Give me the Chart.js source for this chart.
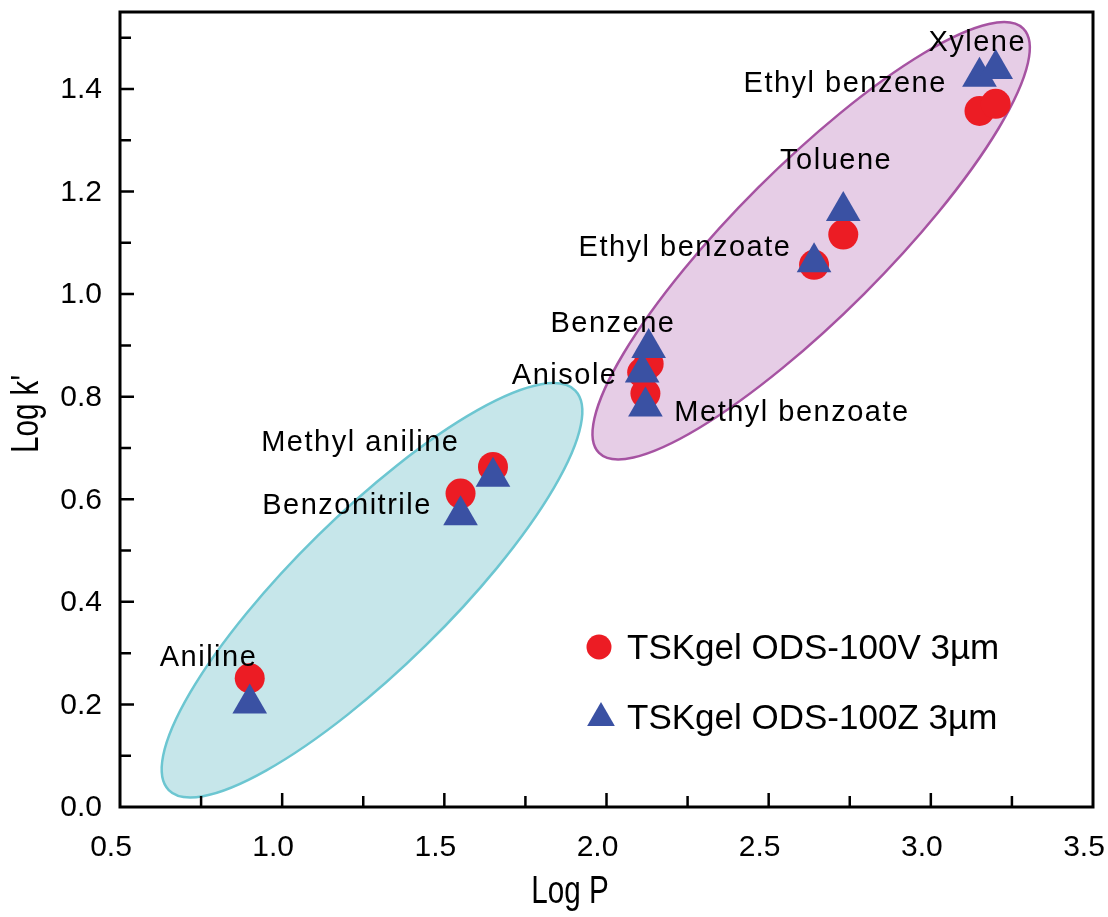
<!DOCTYPE html>
<html>
<head>
<meta charset="utf-8">
<script src="https://cdn.jsdelivr.net/npm/chart.js@4.4.1/dist/chart.umd.min.js"></script>
<style>
  html, body { margin: 0; padding: 0; background: #ffffff; }
  #wrap { width: 1108px; height: 917px; }
</style>
</head>
<body>
<div id="wrap"><canvas id="c" width="1108" height="917"></canvas></div>
<script>
// ---------------- data ----------------
const compounds  = ['Aniline', 'Benzonitrile', 'Methyl aniline', 'Anisole', 'Benzene',
                    'Methyl benzoate', 'Ethyl benzoate', 'Toluene', 'Ethyl benzene', 'Xylene'];
const logP       = [0.90, 1.55, 1.65, 2.11, 2.13, 2.12, 2.64, 2.73, 3.15, 3.20];
const logK_100V  = [0.251, 0.611, 0.663, 0.847, 0.864, 0.806, 1.057, 1.116, 1.357, 1.371];
const logK_100Z  = [0.202, 0.569, 0.644, 0.847, 0.895, 0.781, 1.062, 1.162, 1.424, 1.439];
const seriesNames = ['TSKgel ODS-100V 3\u00b5m', 'TSKgel ODS-100Z 3\u00b5m'];

// label anchor points (data units) for compound names
const labelLogP  = [0.773, 1.200, 1.241, 1.871, 2.020, 2.572, 2.242, 2.708, 2.736, 3.143];
const labelLogK  = [0.290, 0.586, 0.709, 0.841, 0.942, 0.769, 1.090, 1.260, 1.410, 1.489];

const xTickLabels = [0.5, 1.0, 1.5, 2.0, 2.5, 3.0, 3.5];
const yTickLabels = [0.0, 0.2, 0.4, 0.6, 0.8, 1.0, 1.2, 1.4];
const xTickMarks  = [0.75, 1.0, 1.25, 1.5, 1.75, 2.0, 2.25, 2.5, 2.75, 3.0, 3.25];
const yTickMarks  = [0.1, 0.2, 0.3, 0.4, 0.5, 0.6, 0.7, 0.8, 0.9, 1.0, 1.1, 1.2, 1.3, 1.4, 1.5];

// shaded groups (center in data units, semi-axes in px)
const regions = [
  { cx: 1.277, cy: 0.4225, a: 285, b: 77, angle: 44.5, fill: '#c6e6ea', stroke: '#6cc6d1' },
  { cx: 2.631, cy: 1.104,  a: 300, b: 75, angle: 45,   fill: '#e6cde6', stroke: '#a653a2' }
];

const RED = '#ec1c24';
const BLUE = '#3a51a3';
const FONT = "'Liberation Sans', Arial, sans-serif";

function tri(ctx, x, y, r) {
  ctx.beginPath();
  for (let i = 0; i < 3; i++) {
    const a = i * 2 * Math.PI / 3;
    const px = x + Math.sin(a) * r, py = y - Math.cos(a) * r;
    if (i === 0) ctx.moveTo(px, py); else ctx.lineTo(px, py);
  }
  ctx.closePath();
}

const decor = {
  id: 'decor',
  beforeDatasetsDraw(chart) {
    const { ctx, scales: { x, y } } = chart;
    ctx.save();
    regions.forEach(r => {
      const px = x.getPixelForValue(r.cx), py = y.getPixelForValue(r.cy);
      ctx.beginPath();
      ctx.ellipse(px, py, r.a, r.b, -r.angle * Math.PI / 180, 0, Math.PI * 2);
      ctx.fillStyle = r.fill;
      ctx.fill();
      ctx.lineWidth = 2.5;
      ctx.strokeStyle = r.stroke;
      ctx.stroke();
    });
    ctx.restore();
  },
  afterDatasetsDraw(chart) {
    const { ctx, scales: { x, y } } = chart;
    ctx.save();
    ctx.fillStyle = '#000';
    ctx.font = '29px ' + FONT;
    ctx.letterSpacing = '1.5px';
    ctx.textAlign = 'center';
    ctx.textBaseline = 'middle';
    compounds.forEach((name, i) => {
      ctx.fillText(name, x.getPixelForValue(labelLogP[i]), y.getPixelForValue(labelLogK[i]));
    });
    ctx.restore();
  },
  afterDraw(chart) {
    const { ctx, chartArea: ca, scales: { x, y } } = chart;
    ctx.save();
    // frame
    ctx.strokeStyle = '#000';
    ctx.lineWidth = 3;
    ctx.strokeRect(ca.left, ca.top, ca.right - ca.left, ca.bottom - ca.top);
    // inward ticks
    ctx.lineWidth = 2.5;
    ctx.beginPath();
    xTickMarks.forEach(v => {
      const px = x.getPixelForValue(v);
      const len = (Math.abs(v * 2 - Math.round(v * 2)) < 1e-6) ? 14 : 11;
      ctx.moveTo(px, ca.bottom); ctx.lineTo(px, ca.bottom - len);
    });
    yTickMarks.forEach(v => {
      const py = y.getPixelForValue(v);
      const len = (Math.abs(v * 5 - Math.round(v * 5)) < 1e-6) ? 14 : 11;
      ctx.moveTo(ca.left, py); ctx.lineTo(ca.left + len, py);
    });
    ctx.stroke();
    // tick labels
    ctx.fillStyle = '#000';
    ctx.font = '30px ' + FONT;
    ctx.textBaseline = 'middle';
    ctx.textAlign = 'center';
    xTickLabels.forEach(v => {
      ctx.fillText(v.toFixed(1), x.getPixelForValue(v) - 9, ca.bottom + 41);
    });
    ctx.textAlign = 'right';
    yTickLabels.forEach(v => {
      ctx.fillText(v.toFixed(1), ca.left - 18, y.getPixelForValue(v) + 1);
    });
    // axis titles (condensed)
    ctx.textAlign = 'center';
    ctx.font = '38px ' + FONT;
    ctx.save();
    ctx.translate(570, 893);
    ctx.scale(0.78, 1);
    ctx.fillText('Log P', 0, 0);
    ctx.restore();
    ctx.save();
    ctx.translate(28, 414);
    ctx.rotate(-Math.PI / 2);
    ctx.scale(0.78, 1);
    ctx.fillText("Log k'", 0, 0);
    ctx.restore();
    // legend
    ctx.fillStyle = RED;
    ctx.beginPath();
    ctx.arc(599, 647, 12.5, 0, Math.PI * 2);
    ctx.fill();
    ctx.fillStyle = BLUE;
    tri(ctx, 601, 718, 16);
    ctx.fill();
    ctx.fillStyle = '#000';
    ctx.textAlign = 'left';
    ctx.font = '35px ' + FONT;
    ctx.fillText(seriesNames[0], 627, 649);
    ctx.fillText(seriesNames[1], 627, 719);
    ctx.restore();
  }
};

new Chart(document.getElementById('c'), {
  type: 'scatter',
  data: {
    datasets: [
      {
        label: seriesNames[0],
        data: logP.map((v, i) => ({ x: v, y: logK_100V[i] })),
        pointStyle: 'circle', pointRadius: 15, pointHoverRadius: 15,
        backgroundColor: RED, borderWidth: 0, order: 2
      },
      {
        label: seriesNames[1],
        data: logP.map((v, i) => ({ x: v, y: logK_100Z[i] })),
        pointStyle: 'triangle', pointRadius: 20, pointHoverRadius: 20,
        backgroundColor: BLUE, borderWidth: 0, order: 1
      }
    ]
  },
  options: {
    responsive: false,
    animation: false,
    devicePixelRatio: 1,
    layout: { autoPadding: false, padding: { top: 12, right: 15, left: 0, bottom: 0 } },
    plugins: { legend: { display: false }, tooltip: { enabled: false } },
    scales: {
      x: {
        type: 'linear', min: 0.5, max: 3.5,
        grid: { display: false, drawTicks: false },
        border: { display: false },
        ticks: { display: false },
        afterFit: s => { s.height = 110; }
      },
      y: {
        type: 'linear', min: 0, max: 1.55,
        grid: { display: false, drawTicks: false },
        border: { display: false },
        ticks: { display: false },
        afterFit: s => { s.width = 120; }
      }
    }
  },
  plugins: [decor]
});
</script>
</body>
</html>
